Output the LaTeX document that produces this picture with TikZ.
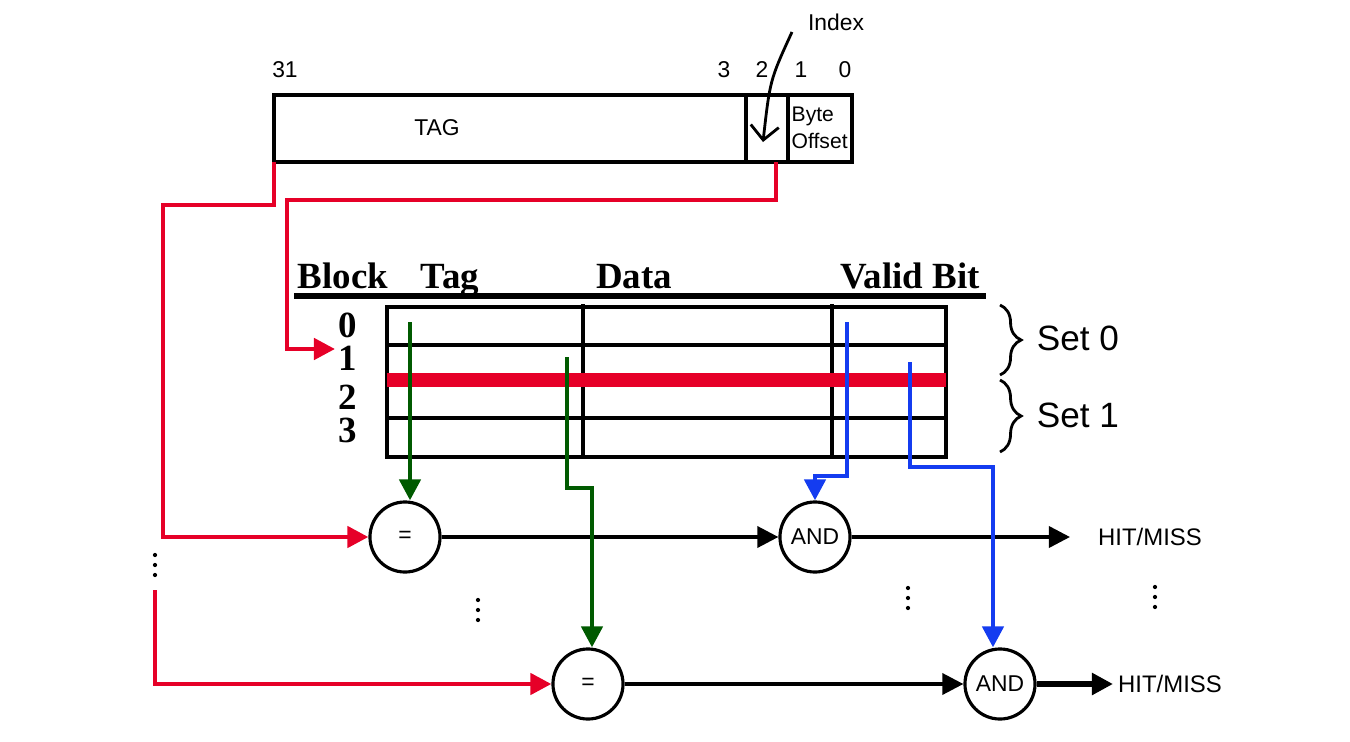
\documentclass[tikz,border=0pt]{standalone}
\usepackage{fontspec}
\setmainfont{Liberation Sans}
\newfontfamily\hdrfont{Liberation Serif}
\usetikzlibrary{arrows.meta,decorations.pathreplacing,positioning}
\tikzset{>={Triangle[length=6pt,width=6pt]}}
\tikzset{
  cell/.style={draw,line width=1.3pt},
  lbl/.style={font=\fontsize{6.5}{7}\selectfont,inner sep=0pt},
  hdr/.style={font=\hdrfont\bfseries\fontsize{10.5}{11}\selectfont,inner sep=0pt},
  gate/.style={draw,circle,line width=0.9pt,minimum size=0.7cm,inner sep=0pt,font=\fontsize{6.5}{7}\selectfont},
  redw/.style={draw={rgb,255:red,230;green,0;blue,40},line width=1.3pt},
  grnw/.style={draw={rgb,255:red,0;green,90;blue,0},line width=1.3pt},
  bluw/.style={draw={rgb,255:red,20;green,60;blue,240},line width=1.3pt},
  blk/.style={draw,line width=1pt},
  vdots/.pic={\foreach \d in {-10,0,10} \fill (0,\d) circle (0.6pt);},
}
\begin{document}
\begin{tikzpicture}[x=0.01cm,y=-0.01cm]
    \useasboundingbox (0,0) rectangle (1350,742);
    % address word
    \draw[cell] (274,95) rectangle (746,162);
    \draw[cell] (746,95) rectangle (788,162);
    \draw[cell] (788,95) rectangle (852,162);
    \node[lbl] (tag) at (437,128) {TAG};
    \node[lbl,align=left,anchor=west,font=\fontsize{6}{6.5}\selectfont] (bo) at (791,128) {Byte\\[1pt]Offset};
    \foreach \b/\x in {31/285,3/724,2/762,1/801,0/845}
      \node[lbl] (bit\b) at (\x,70) {\b};
    \node[lbl] (idx) at (836,22) {Index};
    \coordinate (idxs) at (792,32);
    \coordinate (idxe) at (763,142);
    \draw[-{Straight Barb[length=4pt]},thick] (idxs) .. controls (770,80) .. (idxe);
    % cache table
    \foreach \t/\x in {Block/343,Tag/450,Data/634,Valid Bit/910}
      \node[hdr,anchor=base] at (\x,288) {\t};
    \draw[line width=1.5pt] (294,296) -- (986,296);
    \draw[cell] (387,307) rectangle (946,457);
    \draw[cell] (583,304) -- (583,459) (832,304) -- (832,459);
    \foreach \y in {345,380,418}
      \draw[cell] (387,\y) -- (946,\y);
    \foreach \n/\y in {0/325,1/358,2/397,3/430}
      \node[hdr] (blk\n) at (348,\y) {\n};
    \draw[redw,line width=4pt] (387,380) -- (946,380);
    \draw[decorate,decoration={brace,amplitude=6pt},thick] (1000,305) -- (1000,375);
    \draw[decorate,decoration={brace,amplitude=6pt},thick] (1000,380) -- (1000,452);
    \node[font=\fontsize{10}{11}\selectfont] at (1078,338) {Set 0};
    \node[font=\fontsize{10}{11}\selectfont] at (1078,415) {Set 1};
    % comparators
    \node[gate] (eqa) at (405,537) {=};
    \node[gate] (anda) at (815,537) {AND};
    \node[gate] (eqb) at (588,684) {=};
    \node[gate] (andb) at (1000,684) {AND};
    \node[lbl,font=\fontsize{6.8}{8}\selectfont] (hma) at (1150,537) {HIT/MISS};
    \node[lbl,font=\fontsize{6.8}{8}\selectfont] (hmb) at (1170,684) {HIT/MISS};
    \draw[blk,->] (eqa) -- (anda);
    \draw[blk,->] (anda) -- (1070,537);
    \draw[blk,->] (eqb) -- (andb);
    \draw[blk,line width=1.6pt,->] (andb) -- (1113,684);
    % red wires
    \draw[redw,->] (274,162) |- (163,205) |- (eqa);
    \draw[redw,->] (776,162) |- (287,200) |- (335,349);
    \draw[redw,->] (155,590) |- (eqb);
    % green wires
    \draw[grnw,->] (410,322) -- (eqa.north -| 410,0);
    \draw[grnw,->] (567,357) |- (592,488) -- (eqb.north -| 592,0);
    % blue wires
    \draw[bluw,->] (847,322) |- (815,476) -- (anda.north);
    \draw[bluw,->] (910,362) |- (993,467) -- (andb.north -| 993,0);
    % dots
    \foreach \x/\y in {155/565,478/610,908/598,1155/597}
      \pic at (\x,\y) {vdots};
\end{tikzpicture}
\end{document}
